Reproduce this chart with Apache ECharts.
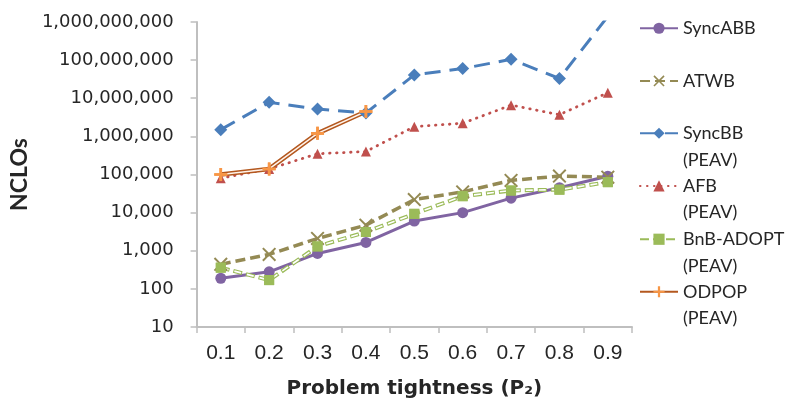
<!DOCTYPE html>
<html><head><meta charset="utf-8">
<script src="https://cdn.jsdelivr.net/npm/echarts@6/dist/echarts.min.js"></script>
<style>html,body{margin:0;padding:0;background:#fff}#c{width:785px;height:405px}</style>
</head><body><div id="c"></div>
<script>
// ---- data ----
const categories = ['0.1', '0.2', '0.3', '0.4', '0.5', '0.6', '0.7', '0.8', '0.9'];
const syncABB = [190, 280, 850, 1650, 6000, 10000, 24000, 45000, 90000];
const atwb = [440, 800, 2100, 4700, 22000, 35000, 70000, 91000, 85000];
const syncBB = [1500000, 7800000, 5200000, 4100000, 41000000, 60000000, 105000000, 33000000, 1400000000];
const afb = [80000, 140000, 350000, 400000, 1800000, 2200000, 6600000, 3700000, 14000000];
const bnbAdopt = [360, 170, 1300, 3100, 9300, 27000, 38000, 40000, 63000];
const odpop = [100000, 140000, 1200000, 4500000, null, null, null, null, null];
const seriesNames = ['SyncABB', 'ATWB', 'SyncBB (PEAV)', 'AFB (PEAV)', 'BnB-ADOPT (PEAV)', 'ODPOP (PEAV)'];
const yAxisName = 'NCLOs';
const xAxisName = 'Problem tightness (P\u2082)';

// ---- styles ----
const X_PATH = 'path://M1,0L5,4L9,0L10,1L6,5L10,9L9,10L5,6L1,10L0,9L4,5L0,1Z';
const PLUS_PATH = 'path://M4,0H6V4H10V6H6V10H4V6H0V4H4Z';
const legendTops = [15, 67.7, 93.5, 146.2, 199.5, 252];
const axisGray = '#BFBFBF';
const textColor = '#262626';

function fmt(v) {
  return String(Math.round(v)).replace(/\B(?=(\d{3})+(?!\d))/g, ',');
}

const chart = echarts.init(document.getElementById('c'), null, {renderer: 'canvas'});
const option = {
  animation: false,
  backgroundColor: '#fff',
  grid: {left: 171, right: 153, top: 22, bottom: 78, containLabel: false},
  legend: seriesNames.map((n, i) => ({
    data: [n], left: 639, top: legendTops[i], orient: 'vertical', padding: 0,
    itemWidth: 38, itemHeight: 14, selectedMode: false,
    formatter: nm => nm.indexOf(' (') >= 0 ? '\n' + nm.replace(' (', '\n(') : nm,
    textStyle: {fontFamily: 'Lato', fontSize: 18, color: textColor, lineHeight: 26.5}
  })),
  xAxis: {
    type: 'category', data: categories, boundaryGap: true,
    axisLine: {lineStyle: {color: axisGray, width: 2}},
    axisTick: {show: true, length: 6, lineStyle: {color: axisGray, width: 1.5}},
    axisLabel: {fontFamily: 'Liberation Sans', fontSize: 21, color: textColor, margin: 16},
    splitLine: {show: false},
    name: xAxisName, nameLocation: 'middle', nameGap: 52,
    nameTextStyle: {fontFamily: 'DejaVu Sans', fontWeight: 'bold', fontSize: 20, color: textColor}
  },
  yAxis: {
    type: 'log', logBase: 10, min: 10, max: 1000000000,
    axisLine: {show: true, lineStyle: {color: axisGray, width: 2}},
    axisTick: {show: true, length: 6, lineStyle: {color: axisGray, width: 1.5}},
    minorTick: {show: false},
    splitLine: {show: false},
    axisLabel: {fontFamily: 'DejaVu Sans', fontSize: 18, color: textColor, margin: 23, formatter: fmt},
    name: yAxisName, nameLocation: 'middle', nameGap: 140, nameRotate: 90,
    nameTextStyle: {fontFamily: 'Lato', fontWeight: 'bold', fontSize: 23, color: textColor}
  },
  series: [
    {
      name: seriesNames[0], type: 'line', data: syncABB,
      symbol: 'circle', symbolSize: 11,
      itemStyle: {color: '#8064A2', borderWidth: 0},
      lineStyle: {color: '#8064A2', width: 3, type: 'solid'}
    },
    {
      name: seriesNames[1], type: 'line', data: atwb,
      symbol: X_PATH, symbolSize: 14,
      itemStyle: {color: '#948A54', borderWidth: 0},
      lineStyle: {color: '#948A54', width: 3.5, type: [10, 5]}
    },
    {
      name: seriesNames[2], type: 'line', data: syncBB,
      symbol: 'diamond', symbolSize: 13,
      itemStyle: {color: '#4A7EBB', borderWidth: 0},
      lineStyle: {color: '#4A7EBB', width: 3, type: [16, 9]}
    },
    {
      name: seriesNames[3], type: 'line', data: afb,
      symbol: 'triangle', symbolSize: 10,
      itemStyle: {color: '#C0504D', borderWidth: 0},
      lineStyle: {color: '#C0504D', width: 2.8, type: [0.5, 6.5], cap: 'round'}
    },
    {
      name: seriesNames[4], type: 'line', data: bnbAdopt,
      symbol: 'rect', symbolSize: 10,
      itemStyle: {color: '#9BBB59', borderWidth: 0},
      lineStyle: {color: '#9BBB59', width: 4, type: [9, 4]}
    },
    {
      name: seriesNames[4], type: 'line', data: bnbAdopt,
      symbol: 'rect', symbolSize: 10,
      itemStyle: {color: '#9BBB59', borderWidth: 0},
      lineStyle: {color: '#ffffff', width: 1.6, type: [7, 6], dashOffset: -1}
    },
    {
      name: seriesNames[5], type: 'line', data: odpop, connectNulls: false,
      symbol: PLUS_PATH, symbolSize: 13,
      itemStyle: {color: '#F79646', borderWidth: 0},
      lineStyle: {color: '#B4581F', width: 4.5, type: 'solid'}
    },
    {
      name: seriesNames[5], type: 'line', data: odpop, connectNulls: false,
      symbol: PLUS_PATH, symbolSize: 13,
      itemStyle: {color: '#F79646', borderWidth: 0},
      lineStyle: {color: '#FFF3EA', width: 1.5, type: 'solid'}
    }
  ]
};
chart.setOption(option);
</script>
</body></html>
